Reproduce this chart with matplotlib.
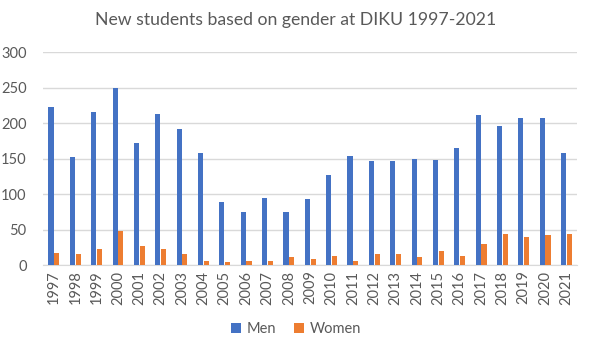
import matplotlib.pyplot as plt
import numpy as np

years = [str(y) for y in range(1997, 2022)]
men = [223, 152, 216, 250, 172, 213, 192, 158, 89, 75, 95, 75, 93, 127,
       154, 147, 147, 150, 148, 165, 212, 196, 207, 207, 158]
women = [17, 16, 23, 48, 27, 22, 16, 6, 5, 6, 6, 12, 9, 13,
         6, 15, 15, 12, 20, 13, 30, 44, 39, 43, 44]

plt.rcParams['font.family'] = ['Lato', 'DejaVu Sans']
grey = '#595959'

fig = plt.figure(figsize=(5.92, 3.52), dpi=100)
ax = fig.add_axes([0.073, 0.247, 0.902, 0.605])

x = np.arange(len(years))
w = 0.24
ax.bar(x - 0.135, men, w, color='#4472C4', label='Men', zorder=3)
ax.bar(x + 0.135, women, w, color='#ED7D31', label='Women', zorder=3)

ax.set_xlim(-0.5, len(years) - 0.5)
ax.set_ylim(0, 300)
ax.set_yticks(range(0, 301, 50))
ax.set_xticks(x)
ax.set_xticklabels(years, rotation=90)
ax.tick_params(axis='both', length=0, colors=grey, labelsize=10.5)
ax.tick_params(axis='y', pad=12)
ax.tick_params(axis='x', pad=4)
ax.grid(axis='y', color='#D9D9D9', linewidth=1, zorder=0)
for s in ['top', 'right', 'left']:
    ax.spines[s].set_visible(False)
ax.spines['bottom'].set_color('#D9D9D9')

fig.suptitle('New students based on gender at DIKU 1997-2021', y=0.965,
             fontsize=12.7, color=grey)
fig.legend(loc='center', bbox_to_anchor=(0.5, 0.064), ncol=2, frameon=False,
           fontsize=10.5, labelcolor=grey, handlelength=0.7, handleheight=0.7,
           columnspacing=1.2, handletextpad=0.4)

fig.savefig('out.png')
